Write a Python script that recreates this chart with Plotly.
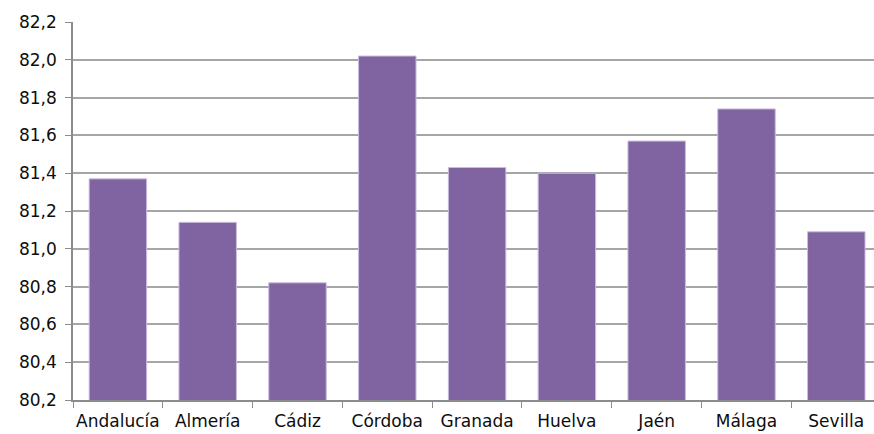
import plotly.graph_objects as go

provincias = ["Andalucía", "Almería", "Cádiz", "Córdoba", "Granada", "Huelva", "Jaén", "Málaga", "Sevilla"]
esperanza_vida = [81.37, 81.14, 80.82, 82.02, 81.43, 81.40, 81.57, 81.74, 81.09]
y_ticks = [80.2, 80.4, 80.6, 80.8, 81.0, 81.2, 81.4, 81.6, 81.8, 82.0, 82.2]

fig = go.Figure(go.Bar(
    x=provincias,
    y=esperanza_vida,
    marker=dict(color="#8064A2", line=dict(color="#C9BCDD", width=1)),
    width=0.64,
))

fig.update_layout(
    width=874, height=434,
    margin=dict(l=73, r=0, t=22, b=34, autoexpand=False),
    paper_bgcolor="white", plot_bgcolor="white",
    separators=",.",
    showlegend=False,
    font=dict(family="DejaVu Sans", size=17, color="#0d0d0d"),
    bargap=0.36,
)
fig.update_yaxes(
    range=[80.2, 82.2],
    tickvals=y_ticks,
    tickformat=".1f",
    showgrid=True, gridcolor="#A6A6A6", gridwidth=1.5,
    showline=True, linecolor="#8C8C8C", linewidth=1.5,
    ticks="outside", ticklen=6, tickcolor="#8C8C8C",
    ticklabelstandoff=5,
    zeroline=False,
    automargin=False,
)
fig.update_xaxes(
    range=[-0.5, 8.42],
    showgrid=False,
    showline=True, linecolor="#8C8C8C", linewidth=1.5,
    ticks="outside", ticklen=6, tickcolor="#8C8C8C",
    tickson="boundaries",
    tickangle=0,
    ticklabelstandoff=5,
    automargin=False,
)

fig.write_html("out.html")
